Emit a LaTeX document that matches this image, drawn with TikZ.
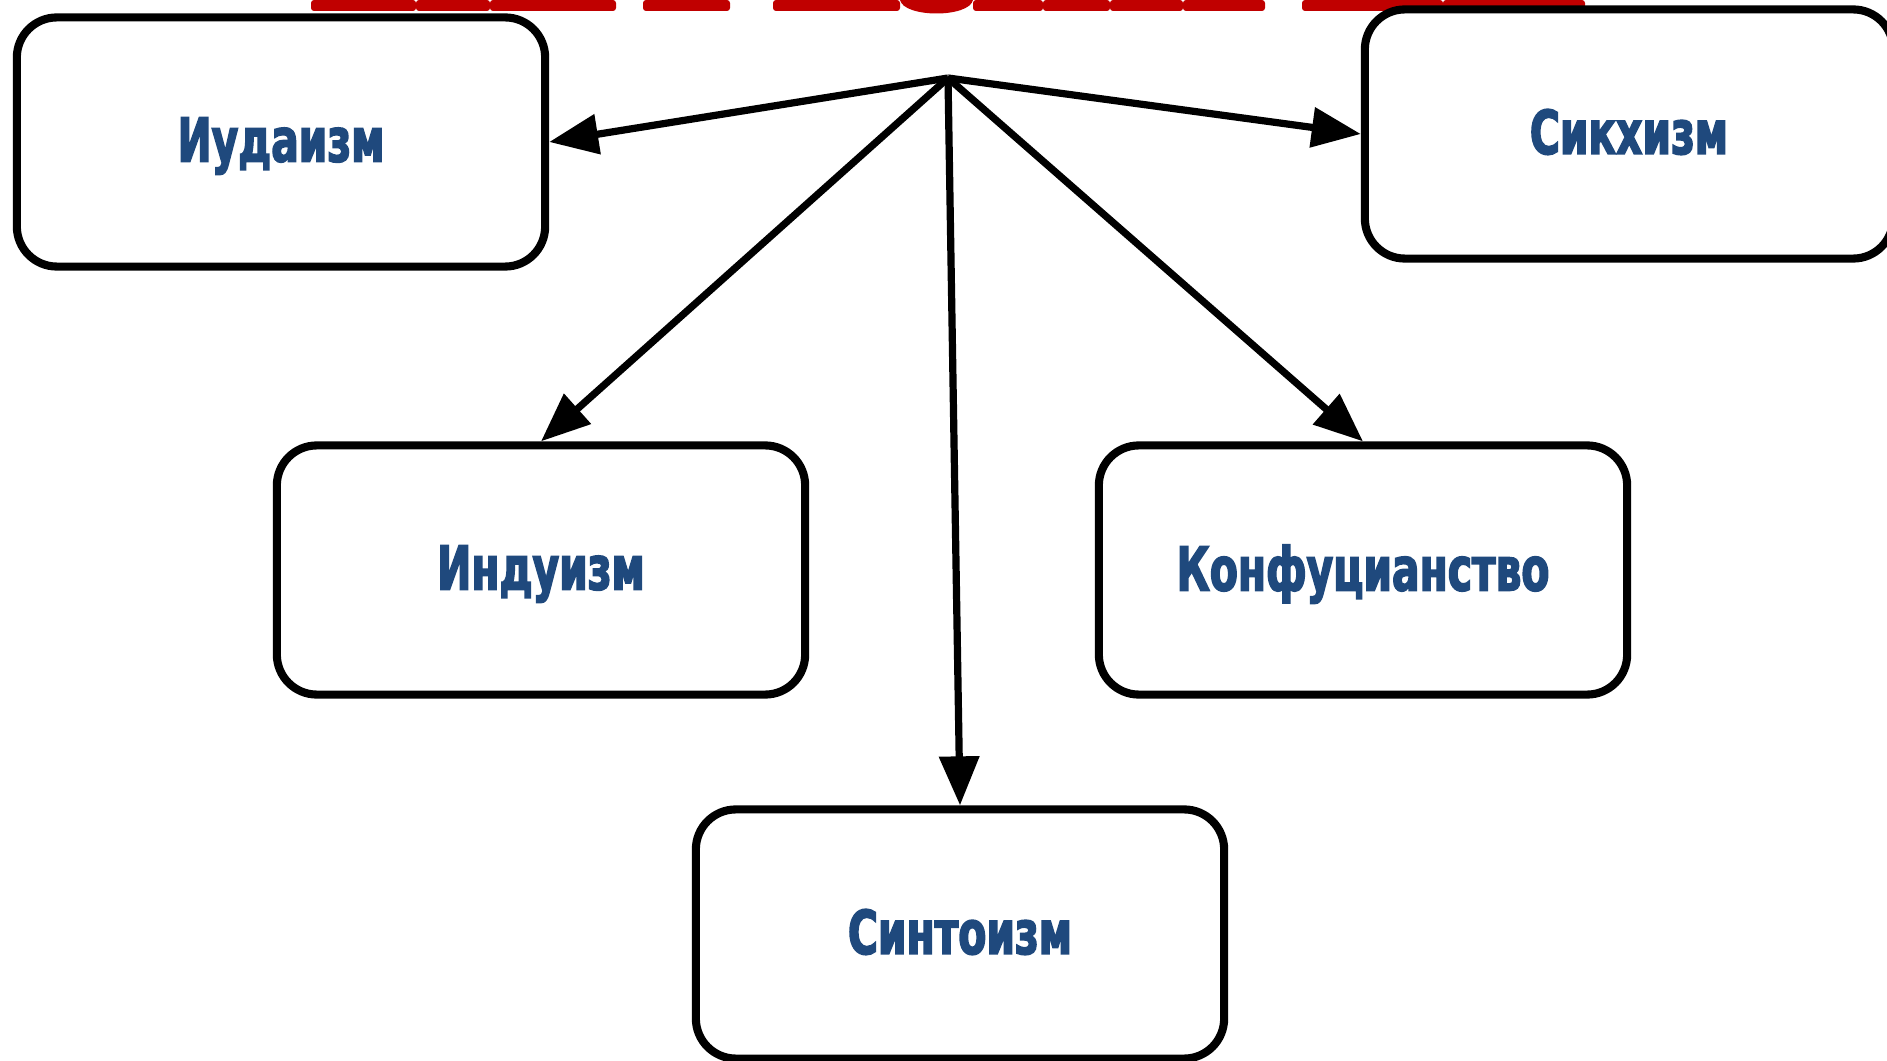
\documentclass[tikz,border=0pt]{standalone}
\usepackage{fontspec}
\newfontfamily\labelfont[FakeStretch=0.75,FakeBold=2.5]{DejaVu Sans Condensed}
\usetikzlibrary{arrows.meta}

\definecolor{labelblue}{RGB}{31,73,125}
\definecolor{titlered}{RGB}{192,0,0}

\begin{document}
\begin{tikzpicture}[x=0.01cm,y=-0.01cm,
                    religion/.style={draw,line width=2.3pt,rounded corners=0.4cm,fill=white,
                                     minimum width=5.28cm,minimum height=2.49cm,text=labelblue,
                                     text depth=1.4pt,
                                     font=\labelfont\bfseries\fontsize{17.2}{20}\selectfont},
                    link/.style={line width=2.05pt,-{Triangle[length=0.49cm,width=0.39cm]}}]

\useasboundingbox (0,0) rectangle (1887,1061);

% cut-off title along the top edge
\foreach \a/\b in {311/416,416/490,490/616,643/730,773/900,973/1043,
                   1043/1110,1110/1183,1183/1265,1302/1443,1443/1585}
	\fill[titlered,rounded corners=0.03cm] (\a,0) -- (\a,11) -- (\b,11) -- (\b,0) -- cycle;
\fill[titlered] (900,0) .. controls (904,18) and (969,18) .. (973,0) -- cycle;

\coordinate (hub) at (948,78);

\node[religion] (judaism) at (281,142) {Иудаизм};
\node[religion] (sikhism) at (1629,134) {Сикхизм};
\node[religion] (hinduism) at (541,570) {Индуизм};
\node[religion] (confucianism) at (1363,570) {Конфуцианство};
\node[religion] (shinto) at (960,934) {Синтоизм};

\draw[link] (hub) -- (judaism.east);
\draw[link] (hub) -- (sikhism.west);
\draw[link] (hub) -- (hinduism.north);
\draw[link] (hub) -- (shinto.north);
\draw[link] (hub) -- (confucianism.north);

\end{tikzpicture}
\end{document}
